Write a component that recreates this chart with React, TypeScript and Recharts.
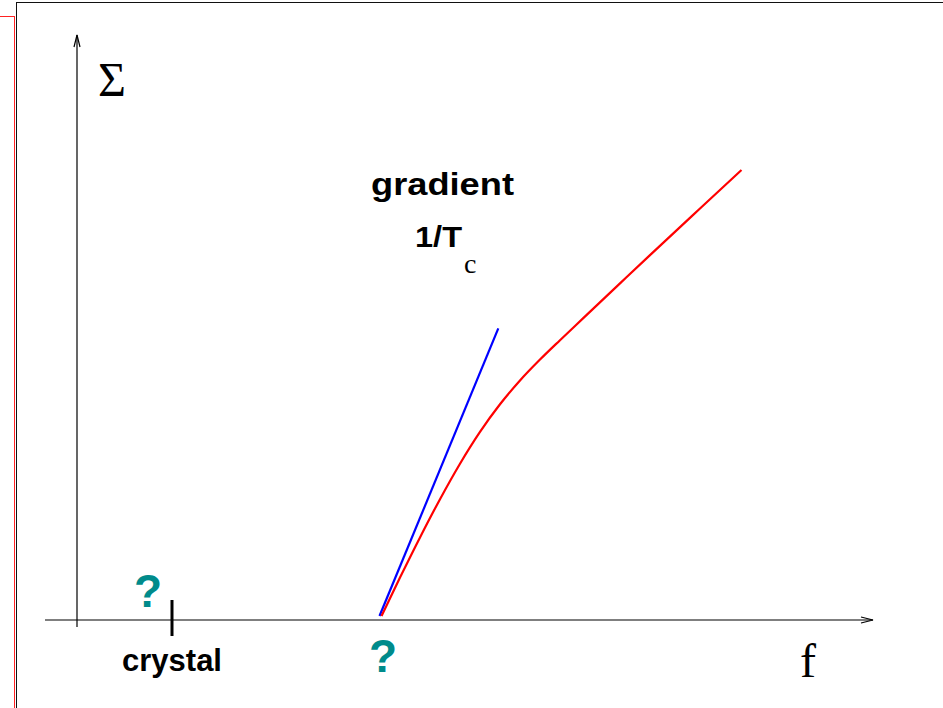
import { Customized, Line, LineChart, ReferenceLine, XAxis, YAxis } from 'recharts';

// red curve (Sigma vs f)
const redF = [3.045, 3.23, 3.43, 3.63, 3.83, 4.03, 4.23, 4.43, 4.63, 4.83, 5.06, 5.43, 5.73, 6.23, 6.645];
const redSigma = [0.04, 0.424, 0.826, 1.208, 1.563, 1.881, 2.157, 2.395, 2.604, 2.798, 3.016, 3.366, 3.649, 4.115, 4.5];

// blue tangent line at the onset
const blueF = [3.025, 4.213];
const blueSigma = [0.04, 2.917];

// crystal tick position on the f axis
const crystalF = 0.95;

const redData = redF.map((f, i) => ({ f, s: redSigma[i] }));
const blueData = blueF.map((f, i) => ({ f, s: blueSigma[i] }));

const TEAL = '#008b8b';

// axis line with an open arrow head at its end point
const arrowLine = (props: any) => {
  const { x1, y1, x2, y2 } = props;
  const dx = x2 - x1;
  const dy = y2 - y1;
  const len = Math.sqrt(dx * dx + dy * dy) || 1;
  const ux = dx / len;
  const uy = dy / len;
  const bx = x2 - ux * 12;
  const by = y2 - uy * 12;
  const nx = -uy * 3;
  const ny = ux * 3;
  return (
    <g>
      <line x1={x1} y1={y1} x2={x2} y2={y2} stroke="#000" strokeWidth={1.2} />
      <path
        d={`M${bx + nx},${by + ny} L${x2},${y2} L${bx - nx},${by - ny}`}
        stroke="#000"
        strokeWidth={1.2}
        fill="none"
      />
    </g>
  );
};

const SANS = "'Liberation Sans', Arial, sans-serif";
const SERIF = "'Liberation Serif', serif";

const Labels = () => (
  <g>
    <text x={98} y={96} fontFamily={SERIF} fontSize={48} fill="#000">
      Σ
    </text>
    <text x={800} y={677} fontFamily={SERIF} fontSize={48} fill="#000">
      f
    </text>
    <text
      x={371}
      y={195}
      fontFamily={SANS}
      fontWeight="bold"
      fontSize={32}
      textLength={143}
      lengthAdjust="spacingAndGlyphs"
      fill="#000"
    >
      gradient
    </text>
    <text
      x={415}
      y={247}
      fontFamily={SANS}
      fontWeight="bold"
      fontSize={29}
      textLength={47}
      lengthAdjust="spacingAndGlyphs"
      fill="#000"
    >
      1/T
    </text>
    <text x={464} y={273} fontFamily={SERIF} fontSize={28} fill="#000">
      c
    </text>
    <text x={172} y={671} textAnchor="middle" fontFamily={SANS} fontWeight="bold" fontSize={31} fill="#000">
      crystal
    </text>
    <text x={148} y={607} textAnchor="middle" fontFamily={SANS} fontWeight="bold" fontSize={46} fill={TEAL}>
      ?
    </text>
    <text x={383} y={672} textAnchor="middle" fontFamily={SANS} fontWeight="bold" fontSize={46} fill={TEAL}>
      ?
    </text>
  </g>
);

export default function App() {
  return (
    <div
      style={{
        position: 'absolute',
        left: 0,
        top: 0,
        width: 943,
        height: 708,
        overflow: 'hidden',
        background: '#fff',
      }}
    >
      {/* page frames */}
      <div
        style={{
          position: 'absolute',
          left: 16,
          top: 2,
          width: 1000,
          height: 1000,
          border: '1px solid #111',
        }}
      />
      <div
        style={{
          position: 'absolute',
          left: -100,
          top: 16,
          width: 115,
          height: 1000,
          boxSizing: 'border-box',
          border: '1px solid #f22',
        }}
      />
      <div style={{ position: 'absolute', left: 0, top: 0 }}>
        <LineChart width={943} height={708} margin={{ top: 0, right: 0, bottom: 0, left: 0 }}>
          <XAxis type="number" dataKey="f" domain={[-0.77, 8.66]} hide allowDataOverflow />
          <YAxis type="number" dataKey="s" domain={[-0.88, 6.2]} hide allowDataOverflow />
          <ReferenceLine
            segment={[
              { x: -0.32, y: 0 },
              { x: 7.96, y: 0 },
            ]}
            shape={arrowLine}
          />
          <ReferenceLine
            segment={[
              { x: 0, y: -0.07 },
              { x: 0, y: 5.85 },
            ]}
            shape={arrowLine}
          />
          <ReferenceLine
            segment={[
              { x: crystalF, y: 0.2 },
              { x: crystalF, y: -0.16 },
            ]}
            stroke="#000"
            strokeWidth={3}
          />
          <Line
            data={blueData}
            dataKey="s"
            type="linear"
            stroke="#0000ff"
            strokeWidth={2.2}
            dot={false}
            activeDot={false}
            isAnimationActive={false}
          />
          <Line
            data={redData}
            dataKey="s"
            type="monotone"
            stroke="#ff0000"
            strokeWidth={2.2}
            dot={false}
            activeDot={false}
            isAnimationActive={false}
          />
          <Customized component={Labels} />
        </LineChart>
      </div>
    </div>
  );
}
